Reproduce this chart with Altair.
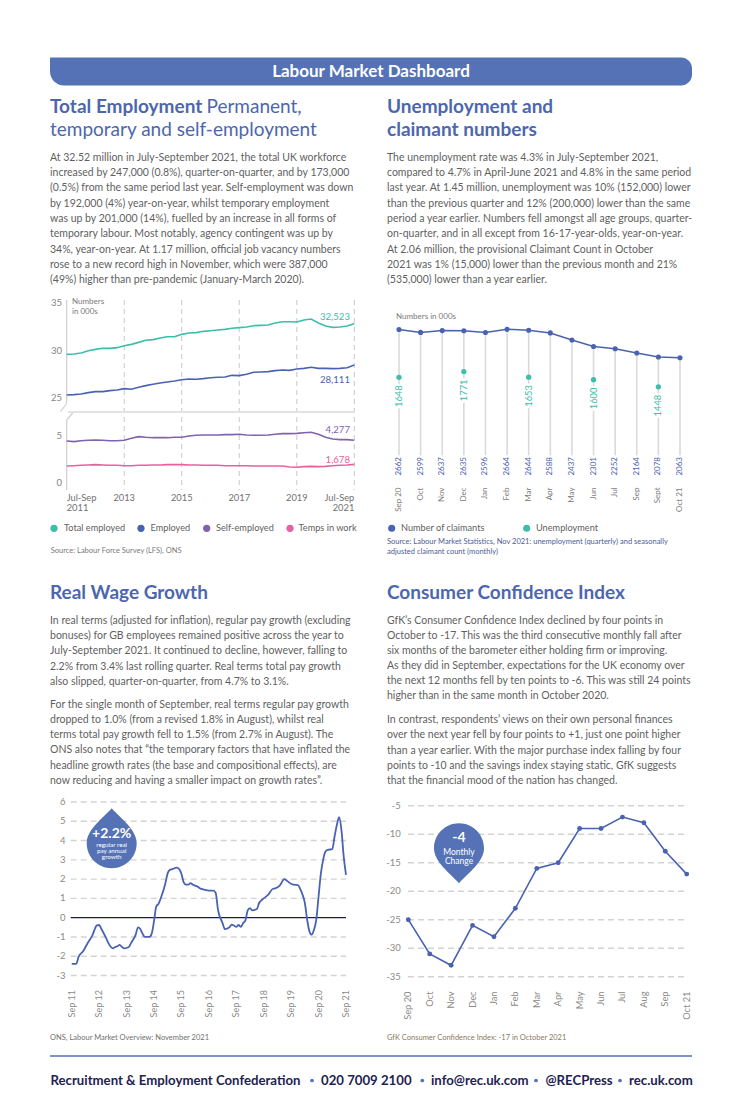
import altair as alt
import pandas as pd

OFF = 8
def P(v):
    return v - OFF

FONT = "Lato"
BLUE = "#4a63b0"
HEAD = "#4c67ae"
BAR = "#5472b5"
TEAL = "#3dbdab"
PURPLE = "#7f63ae"
PINK = "#e9609f"
TXT = "#5f5f5f"
TICK = "#858585"
NAVY = "#1e2253"

# ---------------- data ----------------
# Total employment, rolling quarters Jul-Sep 2011 .. Jul-Sep 2021 (millions)
quarters = list(range(41))
total_employed = [29.59, 29.63, 29.74, 29.98, 30.12, 30.23, 30.23, 30.30, 30.51, 30.65,
                  30.86, 31.08, 31.15, 31.32, 31.46, 31.46, 31.71, 31.85, 31.89, 32.03,
                  32.10, 32.17, 32.24, 32.35, 32.42, 32.49, 32.63, 32.66, 32.70, 32.91,
                  33.05, 33.05, 33.02, 33.23, 33.33, 32.91, 32.59, 32.45, 32.49, 32.59, 32.84]
employed = [25.29, 25.33, 25.40, 25.54, 25.64, 25.64, 25.75, 25.82, 25.96, 25.89,
            26.10, 26.28, 26.42, 26.56, 26.67, 26.77, 26.91, 26.98, 26.95, 27.02,
            27.12, 27.16, 27.20, 27.37, 27.34, 27.48, 27.69, 27.72, 27.76, 27.87,
            27.94, 27.90, 28.04, 28.11, 28.22, 28.11, 28.11, 28.08, 28.11, 28.18, 28.47]
self_employed = [4.44, 4.37, 4.47, 4.51, 4.54, 4.51, 4.47, 4.47, 4.51, 4.72,
                 4.90, 4.83, 4.79, 4.79, 4.79, 4.83, 4.83, 4.97, 5.04, 5.07,
                 5.07, 5.07, 5.11, 5.11, 5.15, 5.07, 5.04, 5.04, 5.07, 5.15,
                 5.22, 5.22, 5.25, 5.32, 5.36, 5.15, 4.83, 4.65, 4.58, 4.58, 4.51]
temps = [1.78, 1.81, 1.85, 1.88, 1.92, 1.88, 1.85, 1.85, 1.81, 1.81,
         1.85, 1.85, 1.88, 1.88, 1.92, 1.92, 1.92, 1.88, 1.88, 1.85,
         1.85, 1.85, 1.81, 1.81, 1.81, 1.81, 1.78, 1.78, 1.78, 1.78,
         1.78, 1.67, 1.64, 1.71, 1.74, 1.71, 1.74, 1.81, 1.85, 1.88, 1.95]
end_values = [32523, 28111, 4277, 1678]
series_names = ["Total employed", "Employed", "Self-employed", "Temps in work"]
year_q = [8, 16, 24, 32]
year_labels = ["2013", "2015", "2017", "2019"]

# Claimants / unemployment (000s)
claim_months = ["Sep 20", "Oct", "Nov", "Dec", "Jan", "Feb", "Mar", "Apr", "May",
                "Jun", "Jul", "Sep", "Sept", "Oct 21"]
claimants = [2662, 2599, 2637, 2635, 2596, 2664, 2644, 2588, 2437, 2301, 2252, 2164, 2078, 2063]
unemp_idx = [0, 3, 6, 9, 12]
unemployment = [1648, 1771, 1653, 1600, 1448]

# Real wage growth (%), months since Sep 2011
wage_month = [0, 2, 3, 5, 7, 9, 11, 12, 13, 15, 16, 18, 19, 20, 21, 22, 23, 25, 26, 28,
              29, 30, 31, 32, 34, 35, 36, 37, 38, 39, 41, 42, 43, 44, 46, 47, 48, 49, 50, 51,
              52, 53, 55, 56, 58, 60, 62, 63, 64, 66, 67, 69, 70, 71, 72, 73, 74, 75, 76, 77,
              78, 79, 81, 82, 84, 86, 88, 89, 91, 93, 94, 95, 97, 99, 100, 101, 102, 103, 104, 105,
              106, 107, 108, 109, 110, 111, 112, 114, 115, 116, 117, 118, 119, 120]
wage_growth = [-2.40, -2.40, -2.03, -1.74, -1.31, -0.93, -0.40, -0.38, -0.59, -1.05,
               -1.31, -1.59, -1.52, -1.48, -1.41, -1.52, -1.59, -1.52, -1.31, -0.88,
               -0.50, -0.59, -0.83, -1.00, -1.00, -0.83, -0.19, 0.59, 0.72, 1.02,
               1.79, 2.31, 2.48, 2.52, 2.60, 2.52, 2.28, 1.83, 1.71, 1.71,
               1.79, 1.71, 1.62, 1.53, 1.45, 1.40, 1.40, 1.28, 0.41, -0.28,
               -0.59, -0.50, -0.36, -0.41, -0.48, -0.38, -0.48, -0.28, -0.14, 0.38,
               0.50, 0.38, 0.45, 0.76, 1.00, 1.19, 1.50, 1.52, 1.66, 2.00,
               1.93, 1.83, 1.71, 1.69, 1.48, 1.19, 0.76, -0.10, -0.71, -0.88,
               -0.62, -0.10, 1.10, 2.28, 3.00, 3.43, 3.52, 3.55, 4.21, 4.81,
               5.21, 4.55, 3.17, 2.22]
wage_ticks = [-3, -2, -1, 0, 1, 2, 3, 4, 5, 6]
wage_tick_month = [0, 12, 24, 36, 48, 60, 72, 84, 96, 108, 120]
wage_tick_labels = ["Sep 11", "Sep 12", "Sep 13", "Sep 14", "Sep 15", "Sep 16",
                    "Sep 17", "Sep 18", "Sep 19", "Sep 20", "Sep 21"]

# GfK Consumer Confidence Index
gfk_months = ["Sep 20", "Oct", "Nov", "Dec", "Jan", "Feb", "Mar", "Apr", "May",
              "Jun", "Jul", "Aug", "Sep", "Oct 21"]
gfk_index = [-25, -31, -33, -26, -28, -23, -16, -15, -9, -9, -7, -8, -13, -17]
gfk_ticks = [-35, -30, -25, -20, -15, -10, -5]

# ---------------- text ----------------
para_tl = [
    "At 32.52 million in July-September 2021, the total UK workforce",
    "increased by 247,000 (0.8%), quarter-on-quarter, and by 173,000",
    "(0.5%) from the same period last year. Self-employment was down",
    "by 192,000 (4%) year-on-year, whilst temporary employment",
    "was up by 201,000 (14%), fuelled by an increase in all forms of",
    "temporary labour. Most notably, agency contingent was up by",
    "34%, year-on-year. At 1.17 million, official job vacancy numbers",
    "rose to a new record high in November, which were 387,000",
    "(49%) higher than pre-pandemic (January-March 2020).",
]
para_tr = [
    "The unemployment rate was 4.3% in July-September 2021,",
    "compared to 4.7% in April-June 2021 and 4.8% in the same period",
    "last year. At 1.45 million, unemployment was 10% (152,000) lower",
    "than the previous quarter and 12% (200,000) lower than the same",
    "period a year earlier. Numbers fell amongst all age groups, quarter-",
    "on-quarter, and in all except from 16-17-year-olds, year-on-year.",
    "At 2.06 million, the provisional Claimant Count in October",
    "2021 was 1% (15,000) lower than the previous month and 21%",
    "(535,000) lower than a year earlier.",
]
para_bl1 = [
    "In real terms (adjusted for inflation), regular pay growth (excluding",
    "bonuses) for GB employees remained positive across the year to",
    "July-September 2021. It continued to decline, however, falling to",
    "2.2% from 3.4% last rolling quarter. Real terms total pay growth",
    "also slipped, quarter-on-quarter, from 4.7% to 3.1%.",
]
para_bl2 = [
    "For the single month of September, real terms regular pay growth",
    "dropped to 1.0% (from a revised 1.8% in August), whilst real",
    "terms total pay growth fell to 1.5% (from 2.7% in August). The",
    "ONS also notes that \u201cthe temporary factors that have inflated the",
    "headline growth rates (the base and compositional effects), are",
    "now reducing and having a smaller impact on growth rates\u201d.",
]
para_br1 = [
    "GfK\u2019s Consumer Confidence Index declined by four points in",
    "October to -17. This was the third consecutive monthly fall after",
    "six months of the barometer either holding firm or improving.",
    "As they did in September, expectations for the UK economy over",
    "the next 12 months fell by ten points to -6. This was still 24 points",
    "higher than in the same month in October 2020.",
]
para_br2 = [
    "In contrast, respondents\u2019 views on their own personal finances",
    "over the next year fell by four points to +1, just one point higher",
    "than a year earlier. With the major purchase index falling by four",
    "points to -10 and the savings index staying static, GfK suggests",
    "that the financial mood of the nation has changed.",
]

# ---------------- helpers ----------------
one = pd.DataFrame({"k": [0]})
BODY = 10.5


def texts(lines, x, y0, dy=0.0, size=BODY, color=TXT, weight="normal",
          align="left", baseline="middle"):
    n = len(lines)
    df = pd.DataFrame({"t": lines, "px": [P(x)] * n,
                       "py": [P(y0) + i * dy for i in range(n)]})
    return alt.Chart(df).mark_text(
        align=align, baseline=baseline, font=FONT, fontSize=size,
        color=color, fontWeight=weight).encode(
        x=alt.X("px:Q", scale=None, axis=None),
        y=alt.Y("py:Q", scale=None, axis=None),
        text="t:N")


def rule(x1, y1, x2, y2, color, width=1.0, dash=None):
    kw = dict(color=color, strokeWidth=width)
    if dash:
        kw["strokeDash"] = dash
    return alt.Chart(one).mark_rule(**kw).encode(
        x=alt.value(P(x1)), y=alt.value(P(y1)),
        x2=alt.value(P(x2)), y2=alt.value(P(y2)))


def dot(x, y, color, size):
    return alt.Chart(one).mark_circle(color=color, size=size, opacity=1).encode(
        x=alt.value(P(x)), y=alt.value(P(y)))


def sc(domain, r0, r1):
    return alt.Scale(domain=domain, range=[P(r0), P(r1)], nice=False, zero=False)


layers = []

# ---------------- header ----------------
layers.append(alt.Chart(one).mark_rect(
    color=BAR, cornerRadiusBottomLeft=14, cornerRadiusTopRight=11,
    cornerRadiusBottomRight=11).encode(
    x=alt.value(P(50)), x2=alt.value(P(692)), y=alt.value(P(57.5)), y2=alt.value(P(85.5))))
layers.append(texts(["Labour Market Dashboard"], 371, 71.5, size=17, color="white",
                    weight="bold", align="center"))

# ---------------- headings ----------------
layers.append(texts(["Total Employment"], 50, 113, size=19, color=HEAD, weight="bold",
                    baseline="alphabetic"))
layers.append(texts(["Permanent,"], 206.5, 113, size=19, color=HEAD, baseline="alphabetic"))
layers.append(texts(["temporary and self-employment"], 50, 136, size=19, color=HEAD,
                    baseline="alphabetic"))
layers.append(texts(["Unemployment and", "claimant numbers"], 387, 113, dy=23, size=19,
                    color=HEAD, weight="bold", baseline="alphabetic"))
layers.append(texts(["Real Wage Growth"], 50, 599, size=19, color=HEAD, weight="bold",
                    baseline="alphabetic"))
layers.append(texts(["Consumer Confidence Index"], 387, 599, size=19, color=HEAD,
                    weight="bold", baseline="alphabetic"))

# ---------------- paragraphs ----------------
layers.append(texts(para_tl, 50, 157.7, dy=15.3))
layers.append(texts(para_tr, 387, 157.7, dy=15.3))
layers.append(texts(para_bl1, 50, 620.5, dy=15.4))
layers.append(texts(para_bl2, 50, 704.5, dy=15.3))
layers.append(texts(para_br1, 387, 620.7, dy=15.1))
layers.append(texts(para_br2, 387, 720.0, dy=15.25))

# ---------------- chart 1: total employment ----------------
xq = sc([0, 40], 66.7, 354.3)
yU = sc([25, 35], 397.7, 303.3)
yL = sc([0, 5], 482.7, 435.7)
df1 = pd.DataFrame({"q": quarters, "total": total_employed, "emp": employed,
                    "self": self_employed, "temps": temps})

layers.append(alt.Chart(pd.DataFrame({"q": year_q + [40]})).mark_rule(
    color="#c9c9c9", strokeDash=[5, 4], strokeWidth=1).encode(
    x=alt.X("q:Q", scale=xq, axis=None), y=alt.value(P(300)), y2=alt.value(P(490))))
# axis line with break
layers.append(rule(66.7, 300, 66.7, 403.5, "#cfcfcf", 1.2))
layers.append(rule(66.7, 403.5, 60.5, 411.5, "#cfcfcf", 1.2))
layers.append(rule(66.7, 420, 73.5, 412, "#cfcfcf", 1.2))
layers.append(rule(66.7, 420, 66.7, 490, "#cfcfcf", 1.2))
layers.append(rule(68, 412, 355, 412, "#e2e2e2", 2))

for field, ysc, col in [("total", yU, TEAL), ("emp", yU, BLUE),
                        ("self", yL, PURPLE), ("temps", yL, PINK)]:
    layers.append(alt.Chart(df1).mark_line(color=col, strokeWidth=1.6).encode(
        x=alt.X("q:Q", scale=xq, axis=None),
        y=alt.Y(f"{field}:Q", scale=ysc, axis=None)))

up_ticks = pd.DataFrame({"v": [25, 30, 35], "lab": ["25", "30", "35"]})
lo_ticks = pd.DataFrame({"v": [0, 5], "lab": ["0", "5"]})
for dfx, ysc in [(up_ticks, yU), (lo_ticks, yL)]:
    layers.append(alt.Chart(dfx).mark_text(
        align="right", baseline="middle", font=FONT, fontSize=9.5, color=TICK).encode(
        x=alt.value(P(62)), y=alt.Y("v:Q", scale=ysc, axis=None), text="lab:N"))

for val, ysc, col, dyv in [(end_values[0], yU, TEAL, -9.5), (end_values[1], yU, BLUE, 11.5),
                           (end_values[2], yL, PURPLE, -12.5), (end_values[3], yL, PINK, -7)]:
    d = pd.DataFrame({"v": [val / 1000.0], "lab": [f"{val:,}"]})
    layers.append(alt.Chart(d).mark_text(
        align="right", baseline="middle", font=FONT, fontSize=9.6, color=col, dy=dyv).encode(
        x=alt.value(P(350)), y=alt.Y("v:Q", scale=ysc, axis=None), text="lab:N"))

layers.append(texts(["Numbers", "in 000s"], 72, 302, dy=10, size=8, color="#7a7a7a"))

# x labels
xl_mid = pd.DataFrame({"q": year_q, "lab": year_labels})
layers.append(alt.Chart(xl_mid).mark_text(
    align="center", baseline="middle", font=FONT, fontSize=9.3, color="#707070").encode(
    x=alt.X("q:Q", scale=xq, axis=None), y=alt.value(P(498.3)), text="lab:N"))
for qv, al, yr in [(0, "left", "2011"), (40, "right", "2021")]:
    d = pd.DataFrame({"q": [qv, qv], "lab": ["Jul-Sep", yr], "py": [P(498.3), P(507.5)]})
    layers.append(alt.Chart(d).mark_text(
        align=al, baseline="middle", font=FONT, fontSize=9.3, color="#707070").encode(
        x=alt.X("q:Q", scale=xq, axis=None), y=alt.Y("py:Q", scale=None, axis=None),
        text="lab:N"))

# legend
for cx, tx, col, name in [(54, 64, TEAL, series_names[0]), (141, 150.5, BLUE, series_names[1]),
                          (206.7, 216, PURPLE, series_names[2]), (290, 298.5, PINK, series_names[3])]:
    layers.append(dot(cx, 528.3, col, 52))
    layers.append(texts([name], tx, 528.3, size=9.2))
layers.append(texts(["Source: Labour Force Survey (LFS), ONS"], 50.7, 551, size=7.5,
                    color="#7a7a7a"))

# ---------------- chart 2: claimants ----------------
xc = sc([0, 13], 399, 680)
yc = sc([0, 2800], 455.3, 322.9)
df2 = pd.DataFrame({"i": list(range(14)), "m": claim_months, "c": claimants,
                    "cl": [str(v) for v in claimants]})
dfu = pd.DataFrame({"i": unemp_idx, "u": unemployment, "ul": [str(v) for v in unemployment]})

layers.append(alt.Chart(df2).mark_rule(color="#dadada", strokeWidth=1.6).encode(
    x=alt.X("i:Q", scale=xc, axis=None), y=alt.Y("c:Q", scale=yc, axis=None),
    y2=alt.datum(0)))
layers.append(alt.Chart(dfu).mark_rule(color="white", strokeWidth=9, yOffset=6.5,
                                       y2Offset=31).encode(
    x=alt.X("i:Q", scale=xc, axis=None), y=alt.Y("u:Q", scale=yc, axis=None),
    y2=alt.Y2("u:Q")))
layers.append(alt.Chart(df2).mark_line(color=BLUE, strokeWidth=1.5).encode(
    x=alt.X("i:Q", scale=xc, axis=None), y=alt.Y("c:Q", scale=yc, axis=None)))
layers.append(alt.Chart(df2).mark_circle(color=BLUE, size=26, opacity=1).encode(
    x=alt.X("i:Q", scale=xc, axis=None), y=alt.Y("c:Q", scale=yc, axis=None)))
layers.append(alt.Chart(dfu).mark_circle(color=TEAL, size=28, opacity=1).encode(
    x=alt.X("i:Q", scale=xc, axis=None), y=alt.Y("u:Q", scale=yc, axis=None)))
layers.append(alt.Chart(dfu).mark_text(
    angle=270, align="right", baseline="middle", font=FONT, fontSize=9.3, color=TEAL,
    yOffset=8).encode(
    x=alt.X("i:Q", scale=xc, axis=None), y=alt.Y("u:Q", scale=yc, axis=None), text="ul:N"))
layers.append(alt.Chart(df2).mark_text(
    angle=270, align="right", baseline="middle", font=FONT, fontSize=8, color=BLUE).encode(
    x=alt.X("i:Q", scale=xc, axis=None), y=alt.value(P(457)), text="cl:N"))
layers.append(alt.Chart(df2).mark_text(
    angle=270, align="right", baseline="middle", font=FONT, fontSize=8, color="#808080").encode(
    x=alt.X("i:Q", scale=xc, axis=None), y=alt.value(P(487.5)), text="m:N"))
layers.append(texts(["Numbers in 000s"], 396, 317, size=8, color="#7a7a7a"))
layers.append(dot(391.7, 528.3, BLUE, 50))
layers.append(texts(["Number of claimants"], 401, 528.3, size=9.2))
layers.append(dot(526.7, 528.3, TEAL, 50))
layers.append(texts(["Unemployment"], 536, 528.3, size=9.2))
layers.append(texts(["Source: Labour Market Statistics, Nov 2021: unemployment (quarterly) and seasonally",
                     "adjusted claimant count (monthly)"], 387, 542.3, dy=10, size=7.5,
                    color="#4d5c99"))

# ---------------- chart 3: real wage growth ----------------
xw = sc([0, 120], 71.7, 346)
yw = sc([-3, 6], 975.5, 802)
df3 = pd.DataFrame({"m": wage_month, "g": wage_growth})
wt = pd.DataFrame({"v": wage_ticks, "lab": [str(v) for v in wage_ticks]})
layers.append(alt.Chart(wt[wt.v != 0]).mark_rule(
    color="#d3d3d3", strokeDash=[6, 4], strokeWidth=1.4).encode(
    y=alt.Y("v:Q", scale=yw, axis=None), x=alt.value(P(70.7)), x2=alt.value(P(346))))
layers.append(alt.Chart(wt[wt.v == 0]).mark_rule(color="#1b1f4b", strokeWidth=1.2).encode(
    y=alt.Y("v:Q", scale=yw, axis=None), x=alt.value(P(70.7)), x2=alt.value(P(346))))
layers.append(alt.Chart(wt).mark_text(
    align="right", baseline="middle", font=FONT, fontSize=9.5, color="#8a8a8a").encode(
    x=alt.value(P(65.5)), y=alt.Y("v:Q", scale=yw, axis=None), text="lab:N"))
layers.append(alt.Chart(df3).mark_line(color=BLUE, strokeWidth=1.8, interpolate="monotone").encode(
    x=alt.X("m:Q", scale=xw, axis=None), y=alt.Y("g:Q", scale=yw, axis=None)))
wx = pd.DataFrame({"m": wage_tick_month, "lab": wage_tick_labels})
layers.append(alt.Chart(wx).mark_text(
    angle=270, align="right", baseline="middle", font=FONT, fontSize=9, color="#8a8a8a").encode(
    x=alt.X("m:Q", scale=xw, axis=None), y=alt.value(P(990)), text="lab:N"))

drop = ("M0,-1.4 C0.35,-1.0 1,-0.55 1,0 C1,0.5523 0.5523,1 0,1 "
        "C-0.5523,1 -1,0.5523 -1,0 C-1,-0.55 -0.35,-1.0 0,-1.4 Z")
layers.append(alt.Chart(one).mark_point(shape=drop, filled=True, color=BAR, size=2500,
                                        opacity=1, strokeWidth=0).encode(
    x=alt.value(P(111.7)), y=alt.value(P(843.3))))
layers.append(texts(["+2.2%"], 111.7, 834.3, size=14, color="white", weight="bold",
                    align="center"))
layers.append(texts(["regular real", "pay annual", "growth"], 111.7, 845.3, dy=5.8,
                    size=6.3, color="white", align="center"))
layers.append(texts(["ONS, Labour Market Overview: November 2021"], 50, 1038, size=7.5,
                    color="#6f6f6f"))

# ---------------- chart 4: GfK ----------------
xg = sc([0, 13], 408.3, 686.7)
yg = sc([-35, -5], 976.7, 805.7)
df4 = pd.DataFrame({"i": list(range(14)), "m": gfk_months, "v": gfk_index})
gt = pd.DataFrame({"v": gfk_ticks, "lab": [str(v) for v in gfk_ticks]})
layers.append(alt.Chart(gt).mark_rule(
    color="#d3d3d3", strokeDash=[6, 4], strokeWidth=1.4).encode(
    y=alt.Y("v:Q", scale=yg, axis=None), x=alt.value(P(408)), x2=alt.value(P(688))))
layers.append(alt.Chart(gt).mark_text(
    align="right", baseline="middle", font=FONT, fontSize=9.5, color="#8a8a8a").encode(
    x=alt.value(P(400.7)), y=alt.Y("v:Q", scale=yg, axis=None), text="lab:N"))
layers.append(alt.Chart(df4).mark_line(color=BLUE, strokeWidth=1.6).encode(
    x=alt.X("i:Q", scale=xg, axis=None), y=alt.Y("v:Q", scale=yg, axis=None)))
layers.append(alt.Chart(df4).mark_circle(color=BLUE, size=24, opacity=1).encode(
    x=alt.X("i:Q", scale=xg, axis=None), y=alt.Y("v:Q", scale=yg, axis=None)))
layers.append(alt.Chart(df4).mark_text(
    angle=270, align="right", baseline="middle", font=FONT, fontSize=9.3, color="#8a8a8a").encode(
    x=alt.X("i:Q", scale=xg, axis=None), y=alt.value(P(991.5)), text="m:N"))

pin = ("M0,1.4 C-0.35,1.0 -1,0.55 -1,0 C-1,-0.5523 -0.5523,-1 0,-1 "
       "C0.5523,-1 1,-0.5523 1,0 C1,0.55 0.35,1.0 0,1.4 Z")
layers.append(alt.Chart(one).mark_point(shape=pin, filled=True, color=BAR, size=2500,
                                        opacity=1, strokeWidth=0).encode(
    x=alt.value(P(459)), y=alt.value(P(848.3))))
layers.append(texts(["-4"], 459, 838, size=14, color="white", weight="bold", align="center"))
layers.append(texts(["Monthly", "Change"], 459, 852, dy=9, size=8.5, color="white",
                    align="center"))
layers.append(texts(["GfK Consumer Confidence Index: -17 in October 2021"], 387, 1038,
                    size=7.5, color="#8a7a5c"))

# ---------------- footer ----------------
layers.append(rule(50, 1056, 692, 1056, BAR, 1.5))
for x0, seg in [(50.5, "Recruitment & Employment Confederation"), (321, "020 7009 2100"),
                (431, "info@rec.uk.com"), (545.5, "@RECPress"), (629, "rec.uk.com")]:
    layers.append(texts([seg], x0, 1080.5, size=13.2, color=NAVY, weight="bold"))
for bx in [312, 422.3, 536, 620]:
    layers.append(dot(bx, 1080.5, BAR, 14))

chart = alt.layer(*layers).properties(
    width=739, height=1090, padding=0,
    autosize=alt.AutoSizeParams(type="none"), background="white"
).resolve_scale(x="independent", y="independent").configure_view(stroke=None)

chart.save("out.html", embed_options={"renderer": "svg", "actions": False})
